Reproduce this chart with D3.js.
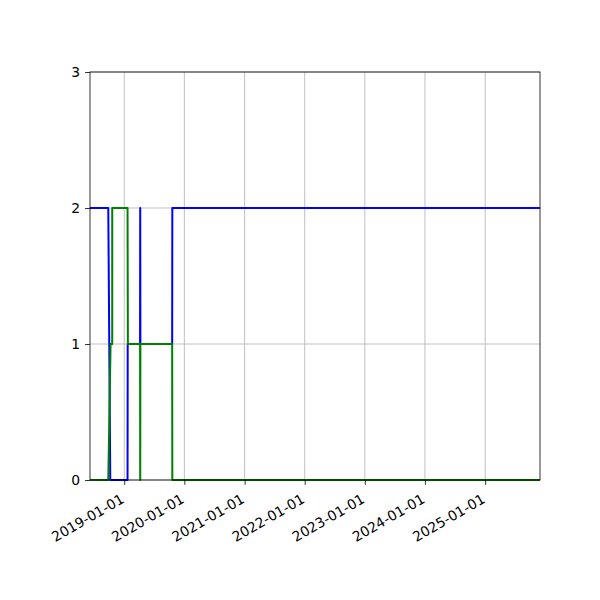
<!DOCTYPE html>
<html>
<head>
<meta charset="utf-8">
<script src="https://cdn.jsdelivr.net/npm/d3@7"></script>
<style>
  body { margin: 0; background: #fff; }
  text { font-family: "DejaVu Sans", sans-serif; font-size: 13.9px; fill: #000; }
</style>
</head>
<body>
<div id="chart"></div>
<script>
var width = 600,
    height = 600,
    margin = {left: 90, right: 60, top: 72, bottom: 120};

// x range of the plot
var xStart = "2018-06-07",
    xEnd = "2025-11-30";

var xTickDates = ["2019-01-01", "2020-01-01", "2021-01-01", "2022-01-01",
                  "2023-01-01", "2024-01-01", "2025-01-01"];
var yTicks = [0, 1, 2, 3];

// blue series
var blueDates = ["2018-06-07", "2018-09-26", "2018-10-08", "2019-01-21", "2019-01-22",
                 "2019-04-07", "2019-04-08", "2019-04-09", "2019-10-19", "2019-10-20", "2025-11-30"];
var blueValues = [2, 2, 0, 0, 1, 1, 2, 1, 1, 2, 2];

// green series
var greenDates = ["2018-06-07", "2018-09-26", "2018-10-10", "2018-10-20", "2018-10-20",
                  "2019-01-21", "2019-01-23", "2019-04-07", "2019-04-08", "2019-04-09",
                  "2019-10-19", "2019-10-20", "2025-11-30"];
var greenValues = [0, 0, 1, 1, 2, 2, 1, 1, 0, 1, 1, 0, 0];

var parse = d3.timeParse("%Y-%m-%d");

var svg = d3.select("#chart").append("svg")
    .attr("width", width)
    .attr("height", height);

var x = d3.scaleTime()
    .domain([parse(xStart), parse(xEnd)])
    .range([margin.left, width - margin.right]);

var y = d3.scaleLinear()
    .domain([0, 3])
    .range([height - margin.bottom, margin.top]);

var g = svg.append("g");

// grid
g.selectAll(".xgrid")
    .data(xTickDates.map(parse))
    .enter().append("line")
    .attr("x1", function(d) { return x(d); })
    .attr("x2", function(d) { return x(d); })
    .attr("y1", y(0))
    .attr("y2", y(3))
    .style("stroke", "#b0b0b0")
    .style("stroke-width", 0.8);

g.selectAll(".ygrid")
    .data(yTicks)
    .enter().append("line")
    .attr("x1", x.range()[0])
    .attr("x2", x.range()[1])
    .attr("y1", function(d) { return y(d); })
    .attr("y2", function(d) { return y(d); })
    .style("stroke", "#b0b0b0")
    .style("stroke-width", 0.8);

var line = d3.line()
    .x(function(d) { return x(d.date); })
    .y(function(d) { return y(d.value); });

function series(dates, values) {
  return dates.map(function(d, i) { return {date: parse(d), value: values[i]}; });
}

svg.append("defs").append("clipPath").attr("id", "clip")
    .append("rect")
    .attr("x", x.range()[0])
    .attr("y", y(3) - 2)
    .attr("width", x.range()[1] - x.range()[0])
    .attr("height", y(0) - y(3) + 4);

g.append("path")
    .datum(series(blueDates, blueValues))
    .attr("d", line)
    .attr("clip-path", "url(#clip)")
    .style("fill", "none")
    .style("stroke", "#0000ff")
    .style("stroke-width", 2)
    .style("stroke-linejoin", "round");

g.append("path")
    .datum(series(greenDates, greenValues))
    .attr("d", line)
    .attr("clip-path", "url(#clip)")
    .style("fill", "none")
    .style("stroke", "#008000")
    .style("stroke-width", 2)
    .style("stroke-linejoin", "round");

// frame
g.append("rect")
    .attr("x", x.range()[0])
    .attr("y", y(3))
    .attr("width", x.range()[1] - x.range()[0])
    .attr("height", y(0) - y(3))
    .style("fill", "none")
    .style("stroke", "#000")
    .style("stroke-width", 0.8);

// x axis
var xAxis = svg.append("g")
    .attr("transform", "translate(0," + y(0) + ")")
    .call(d3.axisBottom(x)
      .tickValues(xTickDates.map(parse))
      .tickSize(4.9)
      .tickPadding(4.9)
      .tickFormat(d3.timeFormat("%Y-%m-%d")));
xAxis.select(".domain").remove();
xAxis.selectAll("line").style("stroke", "#000").style("stroke-width", 0.8);
xAxis.selectAll("text")
    .attr("font-size", null)
    .attr("font-family", null)
    .attr("y", 0)
    .attr("dy", "0.78em")
    .style("text-anchor", "end")
    .attr("transform", "translate(-5,12.5) rotate(-30)");

// y axis
var yAxis = svg.append("g")
    .attr("transform", "translate(" + x.range()[0] + ",0)")
    .call(d3.axisLeft(y)
      .tickValues(yTicks)
      .tickSize(4.9)
      .tickPadding(4.9)
      .tickFormat(d3.format("d")));
yAxis.select(".domain").remove();
yAxis.selectAll("line").style("stroke", "#000").style("stroke-width", 0.8);
yAxis.selectAll("text")
    .attr("font-size", null)
    .attr("font-family", null);
</script>
</body>
</html>
